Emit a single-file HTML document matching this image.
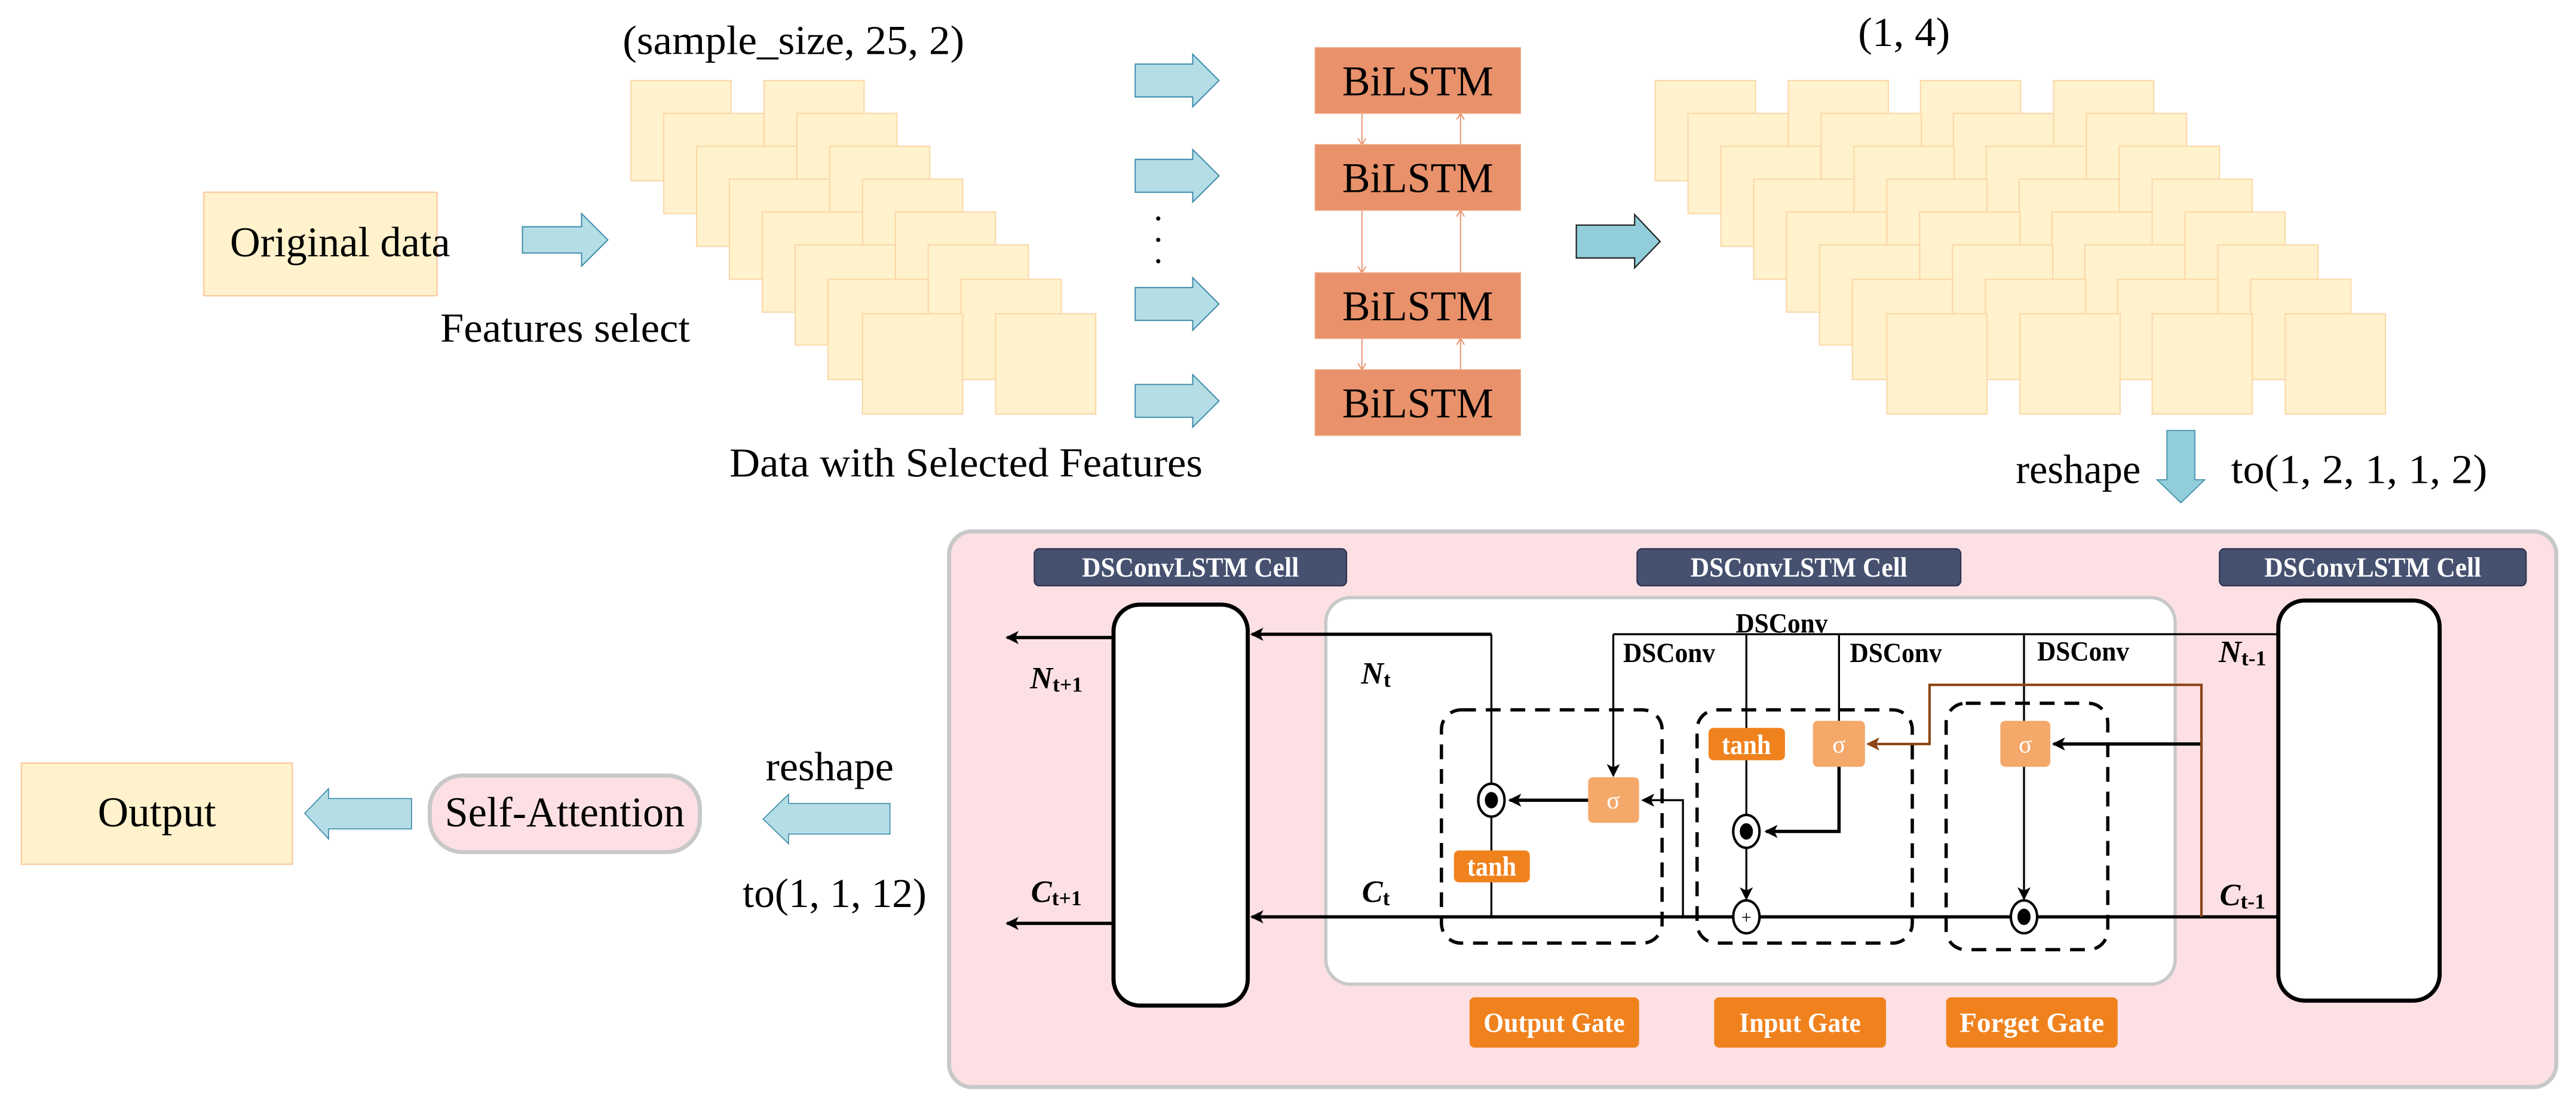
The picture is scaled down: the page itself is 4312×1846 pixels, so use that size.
<!DOCTYPE html>
<html><head><meta charset="utf-8"><style>html,body{margin:0;padding:0;background:#fff}svg{display:block}</style></head><body>
<svg width="4312" height="1846" viewBox="0 0 1568 671.3" preserveAspectRatio="none" xmlns="http://www.w3.org/2000/svg" font-family="Liberation Serif, serif">
<defs>
<marker id="ah" markerWidth="8" markerHeight="8" refX="7" refY="4" orient="auto" markerUnits="userSpaceOnUse"><path d="M0,0 L8,4 L0,8 L2,4 z" fill="#000"/></marker>
<marker id="ab" markerWidth="8" markerHeight="8" refX="7" refY="4" orient="auto" markerUnits="userSpaceOnUse"><path d="M0,0 L8,4 L0,8 L2,4 z" fill="#8b4513"/></marker>
<marker id="ao" markerWidth="5" markerHeight="5" refX="4" refY="2.5" orient="auto" markerUnits="userSpaceOnUse"><path d="M0,0 L4,2.5 L0,5" fill="none" stroke="#e8916a" stroke-width="0.7"/></marker>
</defs>
<rect width="1568" height="671.3" fill="#fff"/>
<g lengthAdjust="spacingAndGlyphs">
<text x="483" y="33" font-size="25" text-anchor="middle" textLength="208" lengthAdjust="spacingAndGlyphs">(sample_size, 25, 2)</text>
<rect x="124" y="117" width="142" height="63" fill="#fff2cc" stroke="#f8cba0" stroke-width="0.8"/>
<text x="207" y="156" font-size="26" text-anchor="middle" textLength="134" lengthAdjust="spacingAndGlyphs">Original data</text>
<path d="M318,138 H354 V130 L370,146 L354,162 V154 H318 Z" fill="#b5dde6" stroke="#3a8aa8" stroke-width="0.7"/>
<text x="344" y="208" font-size="25" text-anchor="middle" textLength="152" lengthAdjust="spacingAndGlyphs">Features select</text>
<g fill="#fff2cc" stroke="#fbd5a5" stroke-width="0.7">
<rect x="384" y="49" width="61" height="61"/><rect x="465" y="49" width="61" height="61"/>
<rect x="404" y="69" width="61" height="61"/><rect x="485" y="69" width="61" height="61"/>
<rect x="424" y="89" width="61" height="61"/><rect x="505" y="89" width="61" height="61"/>
<rect x="444" y="109" width="61" height="61"/><rect x="525" y="109" width="61" height="61"/>
<rect x="464" y="129" width="61" height="61"/><rect x="545" y="129" width="61" height="61"/>
<rect x="484" y="149" width="61" height="61"/><rect x="565" y="149" width="61" height="61"/>
<rect x="504" y="170" width="61" height="61"/><rect x="585" y="170" width="61" height="61"/>
<rect x="525" y="191" width="61" height="61"/><rect x="606" y="191" width="61" height="61"/>
</g>
<text x="588" y="290" font-size="25" text-anchor="middle" textLength="288" lengthAdjust="spacingAndGlyphs">Data with Selected Features</text>
<g fill="#b5dde6" stroke="#3a8aa8" stroke-width="0.7">
<path d="M691,39 H726 V33 L742,49 L726,65 V59 H691 Z"/>
<path d="M691,97 H726 V91 L742,107 L726,123 V117 H691 Z"/>
<path d="M691,175 H726 V169 L742,185 L726,201 V195 H691 Z"/>
<path d="M691,234 H726 V228 L742,244 L726,260 V254 H691 Z"/>
</g>
<circle cx="705" cy="133" r="1.3"/><circle cx="705" cy="146" r="1.3"/><circle cx="705" cy="159" r="1.3"/>
<g stroke="#e8916a" stroke-width="0.7" marker-end="url(#ao)">
<line x1="829" y1="69" x2="829" y2="88"/><line x1="829" y1="128" x2="829" y2="166"/><line x1="829" y1="206" x2="829" y2="225"/>
<line x1="889" y1="88" x2="889" y2="69"/><line x1="889" y1="166" x2="889" y2="128"/><line x1="889" y1="225" x2="889" y2="206"/>
</g>
<g fill="#e8916a" stroke="#f0a882" stroke-width="0.6">
<rect x="800.5" y="29" width="125" height="40"/><rect x="800.5" y="88" width="125" height="40"/>
<rect x="800.5" y="166" width="125" height="40"/><rect x="800.5" y="225" width="125" height="40"/>
</g>
<g font-size="26" text-anchor="middle">
<text x="863" y="58" textLength="92" lengthAdjust="spacingAndGlyphs">BiLSTM</text><text x="863" y="117" textLength="92" lengthAdjust="spacingAndGlyphs">BiLSTM</text>
<text x="863" y="195" textLength="92" lengthAdjust="spacingAndGlyphs">BiLSTM</text><text x="863" y="254" textLength="92" lengthAdjust="spacingAndGlyphs">BiLSTM</text>
</g>
<path d="M959.5,137 H995 V130.6 L1010.5,147 L995,163 V157 H959.5 Z" fill="#92cddb" stroke="#222" stroke-width="0.8"/>
<text x="1159" y="28" font-size="25" text-anchor="middle" textLength="56" lengthAdjust="spacingAndGlyphs">(1, 4)</text>
<g fill="#fff2cc" stroke="#fbd5a5" stroke-width="0.7">
<g id="r"><rect x="1007.5" y="49" width="61" height="61"/><rect x="1088.5" y="49" width="61" height="61"/><rect x="1169" y="49" width="61" height="61"/><rect x="1250" y="49" width="61" height="61"/></g>
<use href="#r" x="20" y="20"/><use href="#r" x="40" y="40"/><use href="#r" x="60" y="60"/><use href="#r" x="80" y="80"/><use href="#r" x="100" y="100"/><use href="#r" x="120" y="121"/><use href="#r" x="141" y="142"/>
</g>
<path d="M1319,262 H1336 V292 H1342 L1327.5,306 L1313,292 H1319 Z" fill="#92cddb" stroke="#3a8aa8" stroke-width="0.6"/>
<text x="1265" y="294" font-size="25" text-anchor="middle" textLength="76" lengthAdjust="spacingAndGlyphs">reshape</text>
<text x="1436" y="294" font-size="25" text-anchor="middle" textLength="156" lengthAdjust="spacingAndGlyphs">to(1, 2, 1, 1, 2)</text>
<rect x="13" y="464.4" width="165" height="61.6" fill="#fff2cc" stroke="#f8cba0" stroke-width="0.8"/>
<text x="95.5" y="503" font-size="26" text-anchor="middle" textLength="72" lengthAdjust="spacingAndGlyphs">Output</text>
<path d="M250.5,486 H200 V480 L185.5,495 L200,510.6 V504.5 H250.5 Z" fill="#b5dde6" stroke="#3a8aa8" stroke-width="0.6"/>
<rect x="261.6" y="472" width="164.4" height="46.6" rx="20" fill="#fde0e4" stroke="#c8c8c8" stroke-width="2.5"/>
<text x="343.8" y="503" font-size="26" text-anchor="middle" textLength="146" lengthAdjust="spacingAndGlyphs">Self-Attention</text>
<path d="M541.7,489 H480 V483.4 L464.5,498.5 L480,513.5 V507.6 H541.7 Z" fill="#b5dde6" stroke="#3a8aa8" stroke-width="0.6"/>
<text x="505" y="475" font-size="25" text-anchor="middle" textLength="78" lengthAdjust="spacingAndGlyphs">reshape</text>
<text x="508" y="552" font-size="25" text-anchor="middle" textLength="112" lengthAdjust="spacingAndGlyphs">to(1, 1, 12)</text>
</g>
<rect x="577.7" y="323.4" width="978.3" height="338.2" rx="14" fill="#fde0e4" stroke="#c8c8c8" stroke-width="2.5"/>
<g fill="#465170" stroke="#2a3350" stroke-width="0.8">
<rect x="629.6" y="334" width="190" height="22.5" rx="3"/><rect x="996.5" y="334" width="197" height="22.5" rx="3"/><rect x="1351" y="334" width="186.6" height="22.5" rx="3"/>
</g>
<g fill="#fff" font-size="17" font-weight="bold" text-anchor="middle">
<text x="724.6" y="351" textLength="132" lengthAdjust="spacingAndGlyphs">DSConvLSTM Cell</text><text x="1095" y="351" textLength="132" lengthAdjust="spacingAndGlyphs">DSConvLSTM Cell</text><text x="1444.3" y="351" textLength="132" lengthAdjust="spacingAndGlyphs">DSConvLSTM Cell</text>
</g>
<rect x="807" y="363.7" width="517" height="235.3" rx="15" fill="#fff" stroke="#c8c8c8" stroke-width="2"/>
<rect x="677.8" y="368" width="81.7" height="244" rx="16" fill="#fff" stroke="#000" stroke-width="2.5"/>
<rect x="1386.8" y="365.5" width="98.2" height="243.5" rx="16" fill="#fff" stroke="#000" stroke-width="2.5"/>
<g fill="none" stroke="#000" stroke-width="2" stroke-dasharray="9,6">
<rect x="877.4" y="432" width="134.3" height="142" rx="12"/>
<rect x="1033" y="432" width="131" height="142" rx="12"/>
<rect x="1184.6" y="428" width="98.4" height="150" rx="12"/>
</g>
<g stroke="#000" stroke-width="1.2" fill="none">
<line x1="1386.8" y1="386" x2="982" y2="386"/>
<line x1="907.8" y1="386" x2="762" y2="386" stroke-width="2" marker-end="url(#ah)"/>
<line x1="907.8" y1="386" x2="907.8" y2="558"/>
<line x1="1386.8" y1="558" x2="762" y2="558" stroke-width="2" marker-end="url(#ah)"/>
<line x1="677.8" y1="388" x2="613" y2="388" stroke-width="2" marker-end="url(#ah)"/>
<line x1="677.8" y1="562" x2="613" y2="562" stroke-width="2" marker-end="url(#ah)"/>
<line x1="982" y1="386" x2="982" y2="472" marker-end="url(#ah)"/>
<line x1="966.7" y1="487" x2="919" y2="487" stroke-width="2" marker-end="url(#ah)"/>
<polyline points="1024.4,558 1024.4,487 1000,487" marker-end="url(#ah)"/>
<line x1="1063" y1="386" x2="1063" y2="496"/>
<line x1="1063" y1="516" x2="1063" y2="547" marker-end="url(#ah)"/>
<line x1="1119.4" y1="386" x2="1119.4" y2="439"/>
<polyline points="1119.4,466 1119.4,506 1075,506" stroke-width="2" marker-end="url(#ah)"/>
<line x1="1232" y1="386" x2="1232" y2="439"/>
<line x1="1232" y1="466" x2="1232" y2="547" marker-end="url(#ah)"/>
<line x1="1340" y1="452.8" x2="1250" y2="452.8" stroke-width="2" marker-end="url(#ah)"/>
</g>
<polyline points="1340,558 1340,416.8 1174.5,416.8 1174.5,452.8 1137,452.8" fill="none" stroke="#8b4513" stroke-width="1.5" marker-end="url(#ab)"/>
<g fill="#fff" stroke="#000" stroke-width="1.5">
<ellipse cx="907.8" cy="487" rx="8" ry="10"/><ellipse cx="1063" cy="506" rx="8" ry="10"/>
<ellipse cx="1063" cy="558" rx="8" ry="10"/><ellipse cx="1232" cy="558" rx="8" ry="10"/>
</g>
<g fill="#000"><ellipse cx="907.8" cy="487" rx="4" ry="5"/><ellipse cx="1063" cy="506" rx="4" ry="5"/><ellipse cx="1232" cy="558" rx="4" ry="5"/></g>
<text x="1063" y="562" font-size="11" text-anchor="middle">+</text>
<g fill="#f4a86a"><rect x="966.7" y="473" width="31" height="27.8" rx="3"/><rect x="1103.5" y="438.7" width="31.7" height="28" rx="3"/><rect x="1217.6" y="438.7" width="30.4" height="28" rx="3"/></g>
<g fill="#f0821e"><rect x="885" y="517.6" width="46.2" height="19.4" rx="3"/><rect x="1040" y="443" width="46.5" height="19.7" rx="3"/></g>
<g fill="#fff" font-size="15" text-anchor="middle">
<text x="982" y="492">σ</text><text x="1119.4" y="458">σ</text><text x="1232.8" y="458">σ</text>
</g>
<g fill="#fff" font-size="17" text-anchor="middle" font-weight="bold">
<text x="908" y="533" textLength="30" lengthAdjust="spacingAndGlyphs">tanh</text><text x="1063" y="459" textLength="30" lengthAdjust="spacingAndGlyphs">tanh</text>
</g>
<g font-size="17" font-weight="bold" text-anchor="middle">
<text x="1084.5" y="385" textLength="56" lengthAdjust="spacingAndGlyphs">DSConv</text><text x="1016" y="403" textLength="56" lengthAdjust="spacingAndGlyphs">DSConv</text><text x="1154" y="403" textLength="56" lengthAdjust="spacingAndGlyphs">DSConv</text><text x="1268" y="402" textLength="56" lengthAdjust="spacingAndGlyphs">DSConv</text>
</g>
<g font-size="19" font-weight="bold" font-style="italic" text-anchor="middle">
<text x="643" y="419">N<tspan font-size="13" font-style="normal" dy="2">t+1</tspan></text>
<text x="837.5" y="416">N<tspan font-size="13" font-style="normal" dy="2">t</tspan></text>
<text x="1365" y="403">N<tspan font-size="13" font-style="normal" dy="2">t-1</tspan></text>
<text x="643" y="549">C<tspan font-size="13" font-style="normal" dy="2">t+1</tspan></text>
<text x="837.5" y="549">C<tspan font-size="13" font-style="normal" dy="2">t</tspan></text>
<text x="1365" y="551">C<tspan font-size="13" font-style="normal" dy="2">t-1</tspan></text>
</g>
<g fill="#f0821e"><rect x="894.5" y="607" width="103.2" height="30.6" rx="3"/><rect x="1043.4" y="607" width="104.6" height="30.6" rx="3"/><rect x="1184.6" y="607" width="104.4" height="30.6" rx="3"/></g>
<g fill="#fff" font-size="17" font-weight="bold" text-anchor="middle">
<text x="946" y="628" textLength="86" lengthAdjust="spacingAndGlyphs">Output Gate</text><text x="1095.7" y="628" textLength="74" lengthAdjust="spacingAndGlyphs">Input Gate</text><text x="1236.8" y="628" textLength="88" lengthAdjust="spacingAndGlyphs">Forget Gate</text>
</g>
</svg>
</body></html>
